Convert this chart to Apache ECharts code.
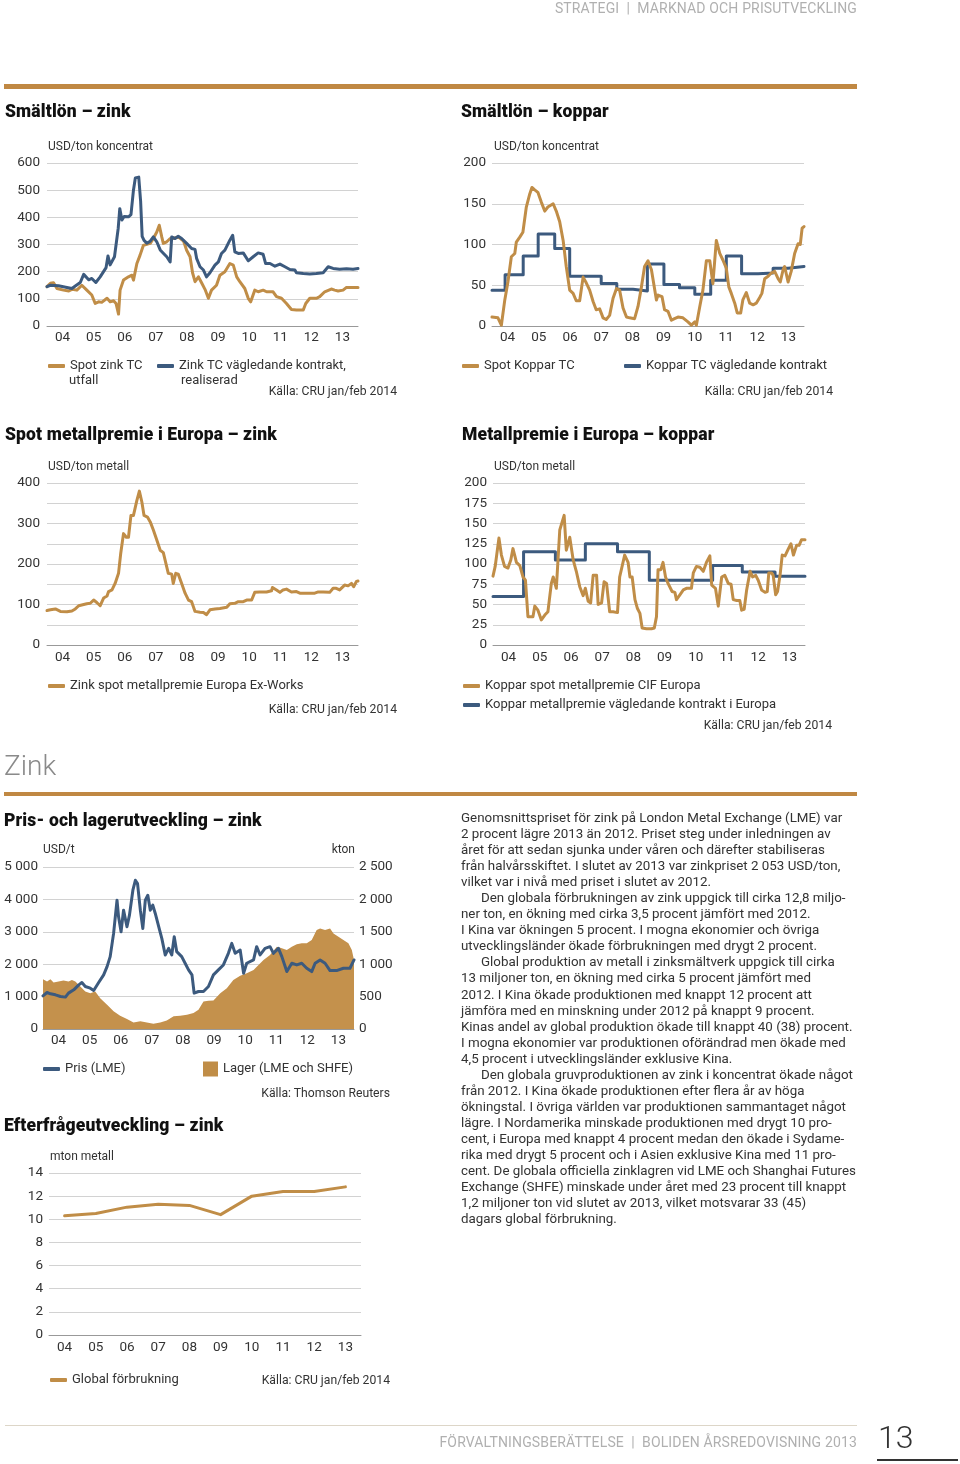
<!DOCTYPE html>
<html><head><meta charset="utf-8">
<script src="https://cdn.jsdelivr.net/npm/echarts@6/dist/echarts.min.js"></script>
<style>
html,body{margin:0;padding:0;background:#fff;}
body{width:960px;height:1464px;position:relative;overflow:hidden;font-family:Roboto,"Open Sans",sans-serif;}
#c{position:absolute;left:0;top:0;width:960px;height:1464px;}
.t{position:absolute;white-space:nowrap;line-height:16px;color:#333;}
.ttl{font-weight:900;font-size:17.5px;color:#111;line-height:20px;letter-spacing:0.15px;}
.u{font-size:12px;color:#333;}
.src{font-size:12.2px;color:#333;}
.lg{font-size:13px;color:#333;}
.bar{position:absolute;background:#c08843;}
.p{position:absolute;left:461px;top:810px;font-size:13.35px;line-height:16.04px;color:#333;white-space:nowrap;}
.ind{display:inline-block;width:20px;}
.hd{font-size:14px;color:#b0b0b0;letter-spacing:0.15px;}
</style></head>
<body>
<div id="c"></div>
<div class="t hd" style="right:103px;top:0">STRATEGI &nbsp;|&nbsp; MARKNAD OCH PRISUTVECKLING</div>
<div class="bar" style="left:4px;top:84px;width:853px;height:5px"></div>
<div class="t ttl" style="left:5px;top:101px">Smältlön – zink</div>
<div class="t ttl" style="left:461px;top:101px">Smältlön – koppar</div>
<div class="t u" style="left:48px;top:138px">USD/ton koncentrat</div>
<div class="t u" style="left:494px;top:138px">USD/ton koncentrat</div>
<div class="t lg" style="left:69px;top:372px">utfall</div>
<div class="t lg" style="left:181px;top:372px">realiserad</div>
<div class="t src" style="right:563px;top:383px">Källa: CRU jan/feb 2014</div>
<div class="t src" style="right:127px;top:383px">Källa: CRU jan/feb 2014</div>
<div class="t ttl" style="left:5px;top:424px">Spot metallpremie i Europa – zink</div>
<div class="t ttl" style="left:462px;top:424px">Metallpremie i Europa – koppar</div>
<div class="t u" style="left:48px;top:458px">USD/ton metall</div>
<div class="t u" style="left:494px;top:458px">USD/ton metall</div>
<div class="t src" style="right:563px;top:701px">Källa: CRU jan/feb 2014</div>
<div class="t src" style="right:128px;top:717px">Källa: CRU jan/feb 2014</div>
<div class="t" style="left:4px;top:748px;font-size:28px;line-height:36px;color:#8a8a8a;font-weight:300">Zink</div>
<div class="bar" style="left:4px;top:792px;width:853px;height:4px"></div>
<div class="t ttl" style="left:4px;top:810px">Pris- och lagerutveckling – zink</div>
<div class="t u" style="left:43px;top:841px">USD/t</div>
<div class="t u" style="right:605px;top:841px">kton</div>
<div class="t src" style="right:570px;top:1085px">Källa: Thomson Reuters</div>
<div class="t ttl" style="left:4px;top:1115px">Efterfrågeutveckling – zink</div>
<div class="t u" style="left:50px;top:1148px">mton metall</div>
<div class="t src" style="right:570px;top:1372px">Källa: CRU jan/feb 2014</div>
<div class="p">Genomsnittspriset för zink på London Metal Exchange (LME) var<br>2 procent lägre 2013 än 2012. Priset steg under inledningen av<br>året för att sedan sjunka under våren och därefter stabiliseras<br>från halvårsskiftet. I slutet av 2013 var zinkpriset 2 053 USD/ton,<br>vilket var i nivå med priset i slutet av 2012.<br><span class="ind"></span>Den globala förbrukningen av zink uppgick till cirka 12,8 miljo-<br>ner ton, en ökning med cirka 3,5 procent jämfört med 2012.<br>I Kina var ökningen 5 procent. I mogna ekonomier och övriga<br>utvecklingsländer ökade förbrukningen med drygt 2 procent.<br><span class="ind"></span>Global produktion av metall i zinksmältverk uppgick till cirka<br>13 miljoner ton, en ökning med cirka 5 procent jämfört med<br>2012. I Kina ökade produktionen med knappt 12 procent att<br>jämföra med en minskning under 2012 på knappt 9 procent.<br>Kinas andel av global produktion ökade till knappt 40 (38) procent.<br>I mogna ekonomier var produktionen oförändrad men ökade med<br>4,5 procent i utvecklingsländer exklusive Kina.<br><span class="ind"></span>Den globala gruvproduktionen av zink i koncentrat ökade något<br>från 2012. I Kina ökade produktionen efter flera år av höga<br>ökningstal. I övriga världen var produktionen sammantaget något<br>lägre. I Nordamerika minskade produktionen med drygt 10 pro-<br>cent, i Europa med knappt 4 procent medan den ökade i Sydame-<br>rika med drygt 5 procent och i Asien exklusive Kina med 11 pro-<br>cent. De globala officiella zinklagren vid LME och Shanghai Futures<br>Exchange (SHFE) minskade under året med 23 procent till knappt<br>1,2 miljoner ton vid slutet av 2013, vilket motsvarar 33 (45)<br>dagars global förbrukning.</div>
<div style="position:absolute;left:5px;top:1425px;width:852px;height:1px;background:#ddd6c8"></div>
<div class="t hd" style="right:103px;top:1434px">FÖRVALTNINGSBERÄTTELSE &nbsp;|&nbsp; BOLIDEN ÅRSREDOVISNING 2013</div>
<div class="t" style="left:878px;top:1419px;font-size:32px;line-height:36px;color:#333;font-weight:300">13</div>
<div style="position:absolute;left:877px;top:1459px;width:81px;height:2px;background:#333"></div>
<script>
// ---------- DATA ----------
const yearLabels = ['04','05','06','07','08','09','10','11','12','13'];

const zinkSpotTC = [[2004.00,145],[2004.11,157],[2004.21,159],[2004.32,138],[2004.53,132],[2004.70,129],[2004.80,135],[2004.96,132],[2005.12,150],[2005.18,154],[2005.28,132],[2005.44,114],[2005.55,83],[2005.66,89],[2005.76,87],[2005.93,102],[2006.03,89],[2006.14,93],[2006.22,83],[2006.30,44],[2006.35,132],[2006.46,169],[2006.62,181],[2006.73,187],[2006.78,169],[2006.89,230],[2006.99,260],[2007.10,297],[2007.21,301],[2007.32,304],[2007.42,322],[2007.53,346],[2007.61,371],[2007.69,328],[2007.74,304],[2007.85,310],[2007.96,322],[2008.06,322],[2008.22,328],[2008.39,313],[2008.49,279],[2008.60,255],[2008.68,196],[2008.76,163],[2008.87,181],[2008.97,159],[2009.08,135],[2009.19,102],[2009.29,132],[2009.45,150],[2009.56,187],[2009.72,200],[2009.88,230],[2009.99,224],[2010.10,181],[2010.20,163],[2010.36,138],[2010.47,102],[2010.55,89],[2010.68,132],[2010.79,126],[2010.95,132],[2011.06,126],[2011.27,126],[2011.38,108],[2011.54,102],[2011.70,83],[2011.86,61],[2012.02,59],[2012.24,59],[2012.32,83],[2012.45,102],[2012.66,102],[2012.77,108],[2012.93,126],[2013.14,136],[2013.25,132],[2013.36,129],[2013.52,132],[2013.63,142],[2013.84,142],[2014.00,142]];

const zinkTCKontrakt = [[2004.00,145],[2004.11,150],[2004.37,148],[2004.64,142],[2004.80,138],[2004.91,147],[2005.07,160],[2005.18,190],[2005.34,170],[2005.44,175],[2005.57,160],[2005.71,181],[2005.90,215],[2005.96,258],[2006.03,225],[2006.17,255],[2006.22,260],[2006.29,360],[2006.34,432],[2006.41,390],[2006.48,403],[2006.62,402],[2006.70,410],[2006.78,500],[2006.84,545],[2006.95,548],[2007.01,460],[2007.06,330],[2007.12,315],[2007.21,305],[2007.32,312],[2007.42,328],[2007.53,310],[2007.64,280],[2007.74,268],[2007.85,255],[2007.96,236],[2008.01,328],[2008.12,322],[2008.22,330],[2008.33,322],[2008.49,304],[2008.65,285],[2008.76,282],[2008.81,249],[2008.92,218],[2009.03,206],[2009.13,181],[2009.24,196],[2009.40,224],[2009.51,236],[2009.61,267],[2009.72,279],[2009.88,316],[2009.97,334],[2010.04,273],[2010.15,267],[2010.31,269],[2010.47,240],[2010.63,255],[2010.79,269],[2010.95,264],[2011.03,230],[2011.17,230],[2011.33,220],[2011.49,228],[2011.65,218],[2011.81,208],[2011.97,206],[2012.02,196],[2012.24,193],[2012.45,191],[2012.66,193],[2012.88,196],[2013.04,218],[2013.09,224],[2013.20,212],[2013.41,209],[2013.63,211],[2013.84,209],[2014.00,212]];

const kopparSpotTC = [[2004.00,11],[2004.19,10],[2004.30,1],[2004.41,32],[2004.51,54],[2004.62,85],[2004.73,89],[2004.78,103],[2004.89,109],[2004.99,115],[2005.10,146],[2005.21,162],[2005.28,170],[2005.37,167],[2005.47,164],[2005.58,152],[2005.69,141],[2005.79,146],[2005.96,150],[2006.06,141],[2006.17,128],[2006.28,105],[2006.38,73],[2006.49,44],[2006.60,40],[2006.70,31],[2006.81,31],[2006.92,60],[2007.02,53],[2007.13,44],[2007.24,30],[2007.34,20],[2007.45,21],[2007.56,10],[2007.66,8],[2007.77,13],[2007.88,34],[2007.99,46],[2008.09,44],[2008.20,22],[2008.31,11],[2008.41,10],[2008.57,9],[2008.68,24],[2008.79,48],[2008.89,73],[2009.00,80],[2009.11,69],[2009.27,32],[2009.32,38],[2009.45,36],[2009.53,20],[2009.64,18],[2009.75,7],[2009.85,9],[2009.96,11],[2010.12,10],[2010.28,5],[2010.39,1],[2010.50,5],[2010.55,1],[2010.66,24],[2010.76,44],[2010.87,80],[2010.98,80],[2011.08,52],[2011.19,105],[2011.30,89],[2011.40,81],[2011.51,71],[2011.59,48],[2011.67,40],[2011.78,28],[2011.86,16],[2011.97,16],[2012.04,32],[2012.15,41],[2012.26,28],[2012.37,26],[2012.47,28],[2012.58,35],[2012.65,40],[2012.74,58],[2012.85,61],[2012.95,65],[2013.06,67],[2013.17,58],[2013.24,54],[2013.33,69],[2013.38,73],[2013.49,54],[2013.59,67],[2013.70,89],[2013.81,101],[2013.88,100],[2013.94,120],[2014.00,122]];

const kopparTCKontrakt = [[2004.00,44],[2004.42,63],[2005.00,86],[2005.48,113],[2006.01,95],[2006.49,61],[2007.50,52],[2008.00,45],[2008.52,43],[2008.98,76],[2009.51,51],[2010.01,47],[2010.50,39],[2011.01,56],[2011.51,86],[2012.00,64],[2012.53,65],[2013.01,71],[2013.49,73],[2014.00,73]];

const zinkSpotPremie = [[2004.00,85],[2004.11,87],[2004.27,89],[2004.43,83],[2004.64,82],[2004.80,84],[2004.91,89],[2005.02,97],[2005.18,100],[2005.28,102],[2005.39,103],[2005.50,111],[2005.60,105],[2005.71,97],[2005.82,116],[2005.93,121],[2005.98,132],[2006.09,136],[2006.19,152],[2006.30,177],[2006.37,226],[2006.46,275],[2006.55,266],[2006.62,266],[2006.70,320],[2006.78,320],[2006.89,357],[2006.97,380],[2007.05,353],[2007.12,320],[2007.23,316],[2007.32,304],[2007.42,284],[2007.53,259],[2007.64,234],[2007.74,228],[2007.90,177],[2008.01,175],[2008.06,152],[2008.14,177],[2008.22,175],[2008.33,152],[2008.44,128],[2008.55,111],[2008.65,107],[2008.76,83],[2008.92,81],[2009.03,80],[2009.13,75],[2009.24,87],[2009.40,89],[2009.56,90],[2009.78,93],[2009.88,102],[2010.04,103],[2010.15,107],[2010.31,107],[2010.42,111],[2010.58,111],[2010.68,130],[2010.84,131],[2011.06,131],[2011.22,134],[2011.25,142],[2011.38,136],[2011.49,130],[2011.59,136],[2011.70,138],[2011.86,131],[2012.02,132],[2012.13,128],[2012.34,128],[2012.61,128],[2012.72,131],[2012.88,131],[2013.09,130],[2013.20,140],[2013.30,140],[2013.41,136],[2013.57,148],[2013.68,146],[2013.79,152],[2013.86,144],[2013.95,157],[2014.00,158]];

const kopparSpotPremie = [[2004.00,85],[2004.07,97],[2004.19,132],[2004.27,111],[2004.37,97],[2004.48,95],[2004.57,105],[2004.64,119],[2004.70,110],[2004.75,102],[2004.86,98],[2004.96,84],[2005.04,80],[2005.12,35],[2005.28,35],[2005.34,48],[2005.44,43],[2005.55,31],[2005.66,37],[2005.76,41],[2005.87,76],[2005.93,84],[2006.03,70],[2006.14,142],[2006.28,160],[2006.35,117],[2006.46,133],[2006.57,105],[2006.67,91],[2006.78,72],[2006.89,61],[2006.96,70],[2007.05,54],[2007.13,52],[2007.21,86],[2007.32,86],[2007.37,50],[2007.48,52],[2007.56,78],[2007.64,76],[2007.74,41],[2007.85,41],[2007.99,40],[2008.06,84],[2008.22,111],[2008.33,102],[2008.39,84],[2008.46,84],[2008.55,56],[2008.63,45],[2008.71,39],[2008.78,21],[2008.92,20],[2009.08,20],[2009.17,21],[2009.24,35],[2009.29,93],[2009.38,93],[2009.45,102],[2009.53,84],[2009.61,76],[2009.74,66],[2009.83,65],[2009.88,56],[2009.99,62],[2010.10,68],[2010.20,70],[2010.36,70],[2010.42,89],[2010.52,97],[2010.63,96],[2010.74,91],[2010.84,102],[2010.95,110],[2011.01,74],[2011.13,70],[2011.22,48],[2011.33,84],[2011.43,86],[2011.54,76],[2011.63,75],[2011.70,56],[2011.81,55],[2011.91,55],[2011.97,43],[2012.05,44],[2012.13,68],[2012.24,91],[2012.32,84],[2012.42,86],[2012.50,80],[2012.61,68],[2012.72,65],[2012.79,66],[2012.84,89],[2012.93,89],[2012.98,86],[2013.06,62],[2013.12,66],[2013.20,86],[2013.27,111],[2013.36,110],[2013.47,119],[2013.55,125],[2013.63,111],[2013.73,123],[2013.81,123],[2013.89,130],[2014.00,130]];

const kopparKontraktPremie = [[2004.00,60],[2004.98,115],[2006.00,105],[2006.96,125],[2007.99,115],[2009.01,80],[2011.04,98],[2011.99,90],[2013.04,85],[2014.00,85]];

const zinkPrisLME = [[2004.00,1025],[2004.13,1127],[2004.24,1086],[2004.40,1055],[2004.56,1004],[2004.72,984],[2004.82,1107],[2004.99,1209],[2005.15,1363],[2005.25,1434],[2005.36,1311],[2005.52,1260],[2005.63,1189],[2005.79,1434],[2005.95,1670],[2006.06,1926],[2006.16,2234],[2006.27,2951],[2006.38,3975],[2006.43,3463],[2006.51,3002],[2006.59,3668],[2006.70,3156],[2006.78,3514],[2006.89,4283],[2006.97,4590],[2007.04,4488],[2007.13,3668],[2007.21,3104],[2007.29,3975],[2007.37,4129],[2007.45,3668],[2007.53,3822],[2007.61,3565],[2007.75,3053],[2007.82,2797],[2007.93,2285],[2008.04,2490],[2008.14,2285],[2008.22,2848],[2008.30,2387],[2008.46,2234],[2008.57,2029],[2008.68,1824],[2008.79,1670],[2008.86,1107],[2009.00,1158],[2009.16,1158],[2009.32,1311],[2009.48,1670],[2009.64,1824],[2009.80,1977],[2009.96,2336],[2010.07,2643],[2010.18,2336],[2010.34,2439],[2010.45,1721],[2010.55,2029],[2010.77,2131],[2010.87,2541],[2010.98,2285],[2011.14,2490],[2011.30,2541],[2011.41,2336],[2011.57,2490],[2011.68,2234],[2011.84,1773],[2012.00,2029],[2012.16,1977],[2012.32,2029],[2012.48,1875],[2012.64,1773],[2012.75,2029],[2012.91,2131],[2013.07,2029],[2013.23,1803],[2013.44,1803],[2013.66,1875],[2013.87,1875],[2014.00,2131]];

const zinkLager = [[2004.00,768],[2004.13,733],[2004.24,768],[2004.34,717],[2004.50,733],[2004.66,748],[2004.82,733],[2004.93,758],[2005.04,733],[2005.20,656],[2005.36,579],[2005.52,553],[2005.68,579],[2005.84,476],[2006.06,374],[2006.27,272],[2006.48,205],[2006.70,154],[2006.91,102],[2007.13,118],[2007.34,102],[2007.55,82],[2007.77,102],[2007.98,133],[2008.20,195],[2008.41,205],[2008.63,220],[2008.84,246],[2009.00,297],[2009.16,425],[2009.32,435],[2009.48,440],[2009.70,553],[2009.91,630],[2010.12,758],[2010.34,820],[2010.55,861],[2010.77,912],[2010.93,989],[2011.09,1066],[2011.30,1142],[2011.52,1270],[2011.68,1245],[2011.84,1219],[2012.00,1270],[2012.16,1306],[2012.32,1322],[2012.48,1322],[2012.64,1373],[2012.80,1527],[2012.91,1552],[2013.07,1527],[2013.23,1552],[2013.34,1475],[2013.50,1424],[2013.66,1373],[2013.82,1322],[2013.93,1219],[2014.00,1066]];

const zinkForbrukning = [10.3, 10.5, 11.05, 11.3, 11.2, 10.4, 12.0, 12.4, 12.4, 12.8];

// ---------- STYLE ----------
const GOLD = '#c08d47', BLUE = '#3c5a7e', GRID = '#d2d2d2', AXIS = '#999', TXT = '#333';
const FONT = 'Roboto';
const LBL = 13.5;

function catAxis(g, margin){
  return {gridIndex:g, type:'category', data:yearLabels, boundaryGap:true, position:'bottom',
    axisTick:{show:false}, axisLine:{lineStyle:{color:AXIS, width:1}},
    axisLabel:{color:TXT, fontSize:LBL, fontFamily:FONT, margin:margin, interval:0}, splitLine:{show:false}};
}
function timeAxis(g){ return {gridIndex:g, type:'value', min:2004, max:2014, show:false, position:'top'}; }
function valAxis(g, min, max, interval, opts){
  const a = {gridIndex:g, type:'value', min:min, max:max, interval:interval,
    axisLine:{show:false}, axisTick:{show:false},
    splitLine:{show:true, lineStyle:{color:GRID, width:1}},
    axisLabel:{color:TXT, fontSize:LBL, fontFamily:FONT, margin:6}};
  return Object.assign(a, opts||{});
}
const sp = v => String(v).replace(/\B(?=(\d{3})+(?!\d))/g, ' ');
function lineS(name, data, color, xi, yi, extra){
  return Object.assign({name:name, type:'line', data:data, xAxisIndex:xi, yAxisIndex:yi,
    showSymbol:false, symbol:'none', smooth:false, lineStyle:{color:color, width:3, join:'round', cap:'round'},
    itemStyle:{color:color}, z:3}, extra||{});
}
function leg(name, left, top, shown, icon){
  const o = {left:left, top:top, padding:0, selectedMode:false, itemWidth:17, itemHeight:4,
    icon:'roundRect', data:[name], textStyle:{color:TXT, fontSize:13, fontFamily:FONT, lineHeight:16}};
  if (shown) o.formatter = () => shown;
  if (icon) Object.assign(o, icon);
  return o;
}

const chart = echarts.init(document.getElementById('c'), null, {renderer:'canvas'});
chart.setOption({
  animation:false,
  textStyle:{fontFamily:FONT},
  grid:[
    {left:47, top:163, width:311, height:163},
    {left:492, top:163, width:312, height:163},
    {left:47, top:483, width:311, height:162},
    {left:493, top:483, width:312, height:162},
    {left:43, top:867, width:311, height:162},
    {left:49, top:1173, width:312, height:162}
  ],
  xAxis:[
    catAxis(0,5), timeAxis(0),
    catAxis(1,5), timeAxis(1),
    catAxis(2,6), timeAxis(2),
    catAxis(3,6), timeAxis(3),
    catAxis(4,5), timeAxis(4),
    catAxis(5,6)
  ],
  yAxis:[
    valAxis(0,0,600,100,{axisLabel:{color:TXT,fontSize:LBL,fontFamily:FONT,margin:7}}),
    valAxis(1,0,200,50),
    valAxis(2,0,400,50,{axisLabel:{color:TXT,fontSize:LBL,fontFamily:FONT,margin:7,formatter:v=> v%100===0 ? String(v) : ''}}),
    valAxis(3,0,200,25),
    valAxis(4,0,5000,1000,{axisLabel:{color:TXT,fontSize:LBL,fontFamily:FONT,margin:5,formatter:sp}}),
    valAxis(4,0,2500,500,{position:'right', splitLine:{show:false}, axisLabel:{color:TXT,fontSize:LBL,fontFamily:FONT,margin:5,formatter:sp}}),
    valAxis(5,0,14,2)
  ],
  legend:[
    leg('Spot zink TC utfall', 48, 358, 'Spot zink TC'),
    leg('Zink TC vägledande kontrakt, realiserad', 157, 358, 'Zink TC vägledande kontrakt,'),
    leg('Spot Koppar TC', 462, 358),
    leg('Koppar TC vägledande kontrakt', 624, 358),
    leg('Zink spot metallpremie Europa Ex-Works', 48, 678),
    leg('Koppar spot metallpremie CIF Europa', 463, 678),
    leg('Koppar metallpremie vägledande kontrakt i Europa', 463, 697),
    leg('Pris (LME)', 43, 1061),
    leg('Lager (LME och SHFE)', 203, 1061, null, {icon:'rect', itemWidth:15, itemHeight:15}),
    leg('Global förbrukning', 50, 1372)
  ],
  series:[
    lineS('Spot zink TC utfall', zinkSpotTC, GOLD, 1, 0),
    lineS('Zink TC vägledande kontrakt, realiserad', zinkTCKontrakt, BLUE, 1, 0, {z:4}),
    lineS('Spot Koppar TC', kopparSpotTC, GOLD, 3, 1, {z:4}),
    lineS('Koppar TC vägledande kontrakt', kopparTCKontrakt, BLUE, 3, 1, {step:'end'}),
    lineS('Zink spot metallpremie Europa Ex-Works', zinkSpotPremie, GOLD, 5, 2),
    lineS('Koppar spot metallpremie CIF Europa', kopparSpotPremie, GOLD, 7, 3, {z:4}),
    lineS('Koppar metallpremie vägledande kontrakt i Europa', kopparKontraktPremie, BLUE, 7, 3, {step:'end'}),
    lineS('Lager (LME och SHFE)', zinkLager, GOLD, 9, 5, {lineStyle:{width:0, color:GOLD}, areaStyle:{color:'#c4914c', opacity:1}, z:2}),
    lineS('Pris (LME)', zinkPrisLME, BLUE, 9, 4, {z:4}),
    lineS('Global förbrukning', zinkForbrukning, GOLD, 10, 6)
  ]
});
</script>
</body></html>
